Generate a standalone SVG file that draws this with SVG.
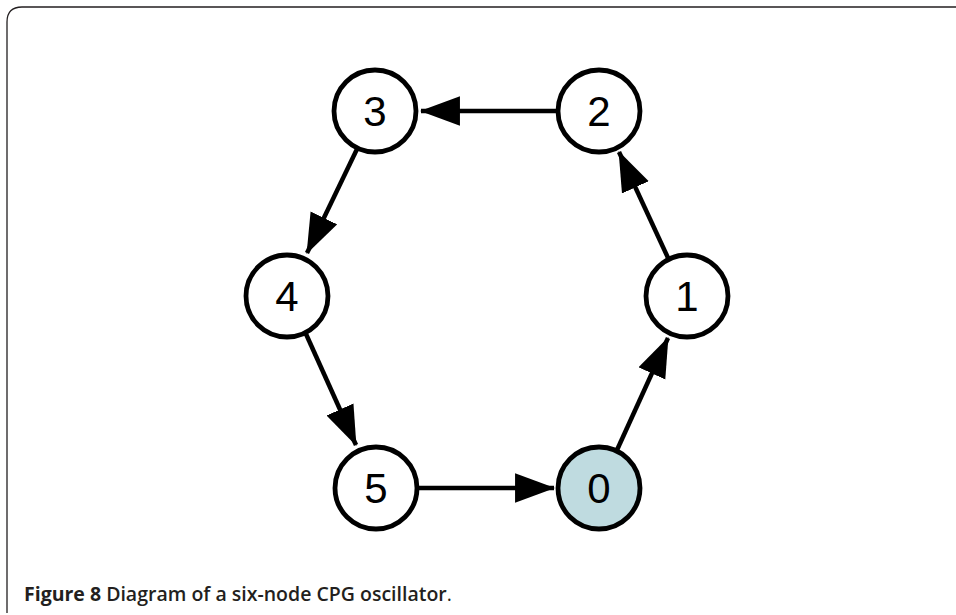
<svg xmlns="http://www.w3.org/2000/svg" width="956" height="615" viewBox="0 0 956 615">
<defs>
<style>
.node circle{fill:#fff;stroke:#000;stroke-width:4.8}
.node text{font-family:"Liberation Sans",Arial,sans-serif;font-size:42px;text-anchor:middle;fill:#000}
.edge{stroke:#000;stroke-width:4.5;fill:none}
.cap{font-family:"Open Sans","Noto Sans",sans-serif;font-size:19.5px;fill:#231f20}
</style>
<marker id="ah" markerUnits="userSpaceOnUse" markerWidth="40" markerHeight="30" viewBox="0 0 38 28" refX="37" refY="14" orient="auto">
<path d="M0,0 L38,14 L0,28 Z" fill="#000"/>
</marker>
</defs>
<rect width="956" height="615" fill="#fff"/>
<path d="M7,613 L7,22 Q7,7 22,7 L956,7" fill="none" stroke="#231f20" stroke-width="1.3"/>
<g id="connectors">
<line class="edge" x1="557" y1="111" x2="421" y2="111" marker-end="url(#ah)"/>
<line class="edge" x1="669" y1="260" x2="619" y2="152" marker-end="url(#ah)"/>
<line class="edge" x1="358" y1="147" x2="307" y2="253" marker-end="url(#ah)"/>
<line class="edge" x1="306" y1="334" x2="356" y2="445" marker-end="url(#ah)"/>
<line class="edge" x1="418" y1="488" x2="554" y2="488" marker-end="url(#ah)"/>
<line class="edge" x1="617" y1="450" x2="668" y2="338" marker-end="url(#ah)"/>
</g>
<g id="node0" class="node"><circle cx="599" cy="488" r="41" style="fill:#bfdbe0"/><text x="599" y="503">0</text></g>
<g id="node1" class="node"><circle cx="687" cy="296" r="41"/><text x="687" y="311">1</text></g>
<g id="node2" class="node"><circle cx="599" cy="111" r="41"/><text x="599" y="126">2</text></g>
<g id="node3" class="node"><circle cx="375" cy="111" r="41"/><text x="375" y="126">3</text></g>
<g id="node4" class="node"><circle cx="287" cy="296" r="41"/><text x="287" y="311">4</text></g>
<g id="node5" class="node"><circle cx="376" cy="488" r="41"/><text x="376" y="503">5</text></g>
<text class="cap" x="24" y="601"><tspan font-weight="700">Figure 8</tspan><tspan font-weight="600"> Diagram of a six-node CPG oscillator</tspan>.</text>
</svg>
